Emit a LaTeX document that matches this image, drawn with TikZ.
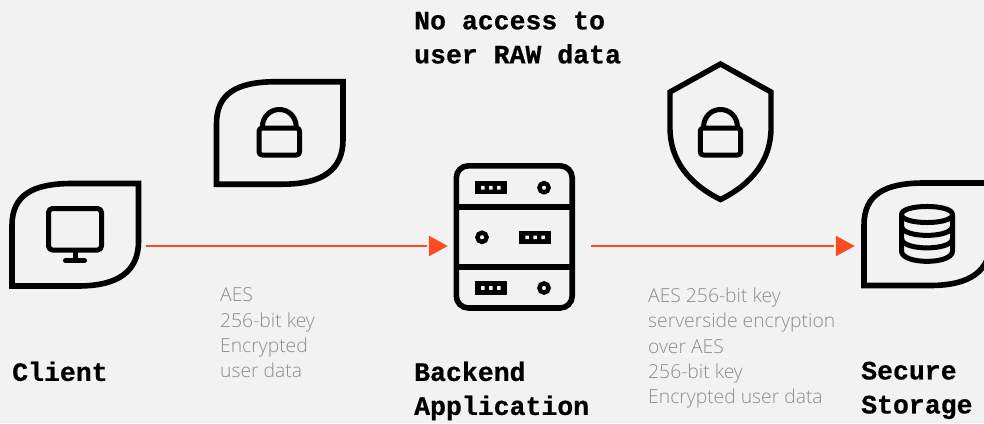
\documentclass[tikz,border=0pt]{standalone}
\usepackage{fontspec}
\usetikzlibrary{arrows.meta}
\newfontfamily\titlefont[FakeBold=0.6]{Liberation Mono Bold}
\newfontfamily\lightfont{Open Sans Light}
\definecolor{bgc}{HTML}{F2F2F2}
\definecolor{flow}{HTML}{FC4C24}
\definecolor{note}{HTML}{8C8C8C}
\tikzset{
  icon/.style={draw=black,line width=5pt,line join=round},
  leafline/.style={draw=black,line width=5.6pt,line join=miter,miter limit=10},
  hub/.style={inner sep=0pt,minimum height=10pt,rectangle},
  flowline/.style={draw=flow,line width=2.6pt,-{Bar[width=5pt,line width=2pt,color=bgc,sep=0pt]Triangle[length=19pt,width=20pt,color=flow]}},
  title/.style={font=\titlefont\fontsize{26.5}{34}\selectfont,align=left,inner sep=0pt,anchor=north west},
  notetext/.style={font=\lightfont\fontsize{19.3}{25.4}\selectfont,text=note,align=left,inner sep=0pt,anchor=north west},
  leafpic/.pic={
    \path[leafline] (0,102.5) -- (0,42) .. controls (0,12) and (20,0) .. (60,0) -- (126.5,0)
      -- (126.5,58) .. controls (126.5,88) and (106,102.5) .. (66,102.5) -- cycle;
  },
  lockpic/.pic={
    \path[icon] (-20.2,-0.5) [rounded corners=3pt] -- (-20.2,26.5) -- (20.2,26.5) -- (20.2,-0.5) -- cycle;
    \path[icon] (-17,-1) .. controls (-17,-12) and (-9,-19) .. (0,-19) .. controls (9,-19) and (17,-12) .. (17,-1);
  },
  serverpic/.pic={
    \fill (0,0) rectangle (31.7,13.4);
    \fill[bgc] (6,4.9) rectangle (9.6,8.5) (14,4.9) rectangle (17.6,8.5) (22,4.9) rectangle (25.6,8.5);
  },
  ringpic/.pic={
    \draw[black,line width=4.4pt] (0,0) circle (4.6pt);
  }
}
\begin{document}
\begin{tikzpicture}[x=1pt,y=-1pt]
\useasboundingbox (0,0) rectangle (984,423);
\fill[bgc] (0,0) rectangle (984,423);

% hubs for connectors
\node[hub,minimum width=142pt] (client) at (75,246) {};
\node[hub,minimum width=143pt] (backend) at (519.5,246) {};
\node[hub,minimum width=144pt] (storage) at (927,246) {};

% leaves
\pic at (12,183.5) {leafpic};
\pic at (216.5,81.7) {leafpic};
\pic at (864,183) {leafpic};

% monitor
\path[icon,rounded corners=4pt] (48.5,208.5) rectangle (101.5,250);
\path[icon] (75,250) -- (75,260);
\path[icon,line cap=round] (65.5,260.7) -- (84.5,260.7);

% locks
\pic at (279.3,128.5) {lockpic};
\pic at (720.5,128.5) {lockpic};

% shield
\path[leafline,line width=5.4pt] (720.5,64) -- (771,92) -- (771,128)
  .. controls (771,160) and (752,184) .. (720.5,199.5)
  .. controls (689,184) and (670,160) .. (670,128) -- (670,92) -- cycle;

% server
\path[leafline,rounded corners=12pt] (456.3,165.8) rectangle (572.2,308);
\path[leafline] (456.3,206.7) -- (572.2,206.7);
\path[leafline] (456.3,266.7) -- (572.2,266.7);
\pic at (475,181) {serverpic};
\pic at (519.3,230.7) {serverpic};
\pic at (475,281.3) {serverpic};
\pic at (544,187.7) {ringpic};
\pic at (482,237.3) {ringpic};
\pic at (544,288) {ringpic};

% database
\path[icon] (901.5,214.5) .. controls (901.5,203.8) and (952.5,203.8) .. (952.5,214.5)
  .. controls (952.5,225.2) and (901.5,225.2) .. (901.5,214.5) -- cycle;
\path[icon] (901.5,214.5) -- (901.5,251) .. controls (901.5,264.8) and (952.5,264.8) .. (952.5,251) -- (952.5,214.5);
\path[icon] (901.5,226) .. controls (901.5,238.5) and (952.5,238.5) .. (952.5,226);
\path[icon] (901.5,238.5) .. controls (901.5,251) and (952.5,251) .. (952.5,238.5);

% connectors
\draw[flowline] (client.east) -- (backend.west);
\draw[flowline] (backend.east) -- (storage.west);

% texts
\node[title] (ttop) at (414,11.5) {No access to\\user RAW data};
\node[title] (tclient) at (12,361.5) {Client};
\node[title] (tback) at (414,361.5) {Backend\\Application};
\node[title] (tstore) at (861,361.5) {Secure\\Storage};
\node[notetext] (n1) at (220,287.5) {AES\\256-bit key\\Encrypted\\user data};
\node[notetext] (n2) at (648,287.5) {AES 256-bit key\\serverside encryption\\over AES\\256-bit key\\Encrypted user data};
\end{tikzpicture}
\end{document}
